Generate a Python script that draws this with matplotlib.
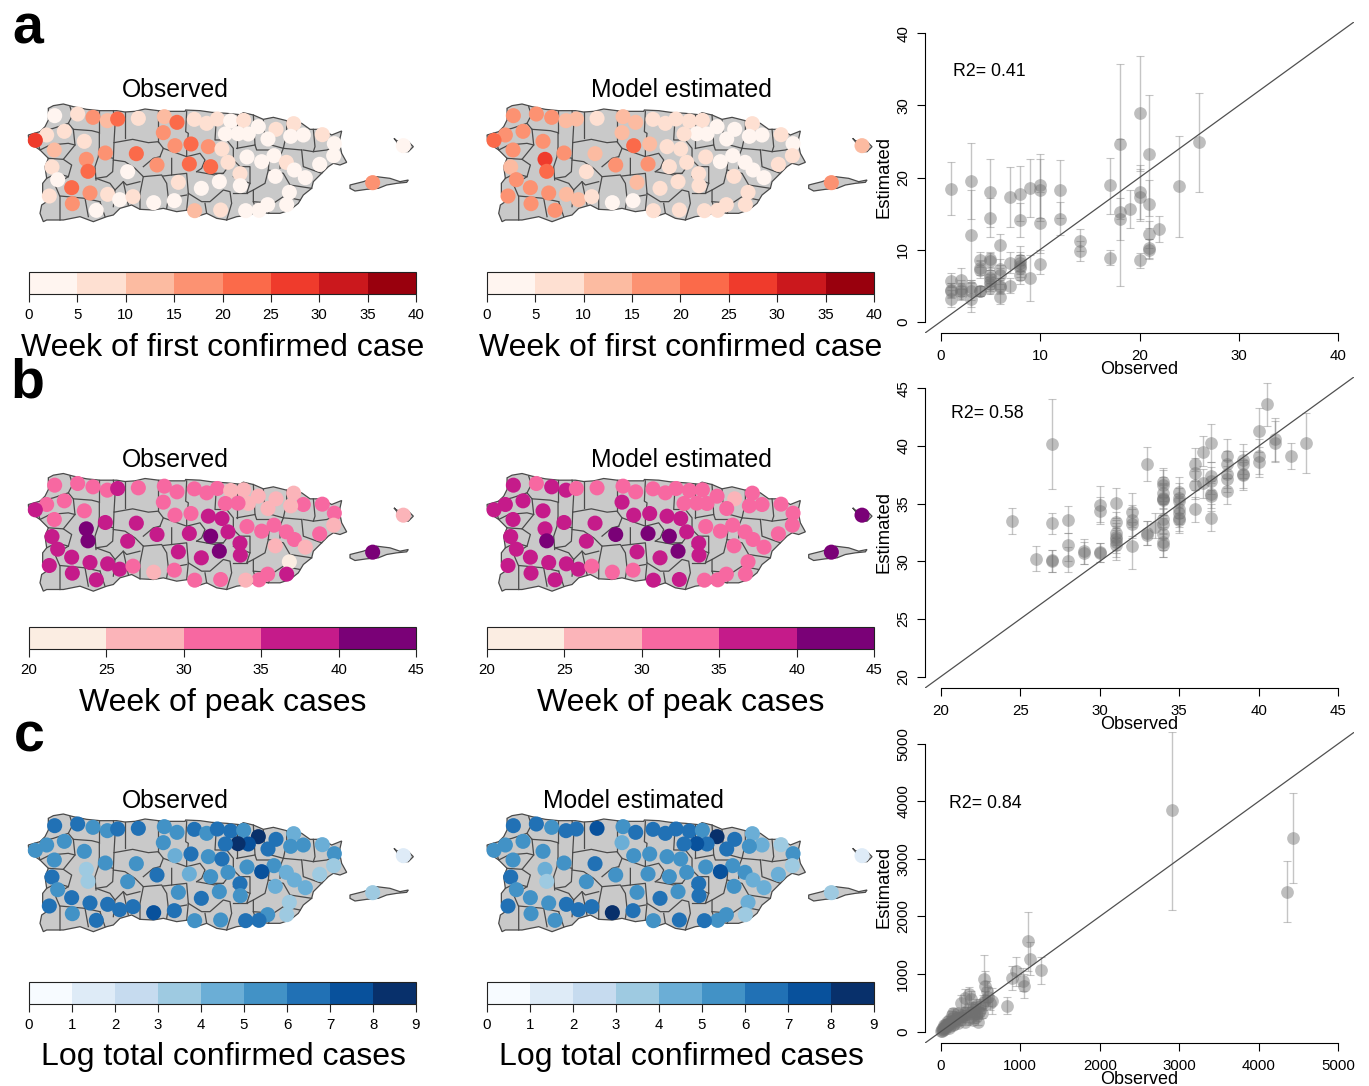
import matplotlib
matplotlib.use("Agg")
import matplotlib.pyplot as plt
from matplotlib.colors import ListedColormap, BoundaryNorm
from matplotlib.colorbar import ColorbarBase

W, H = 1369, 1086
plt.rcParams['font.family'] = ['Liberation Sans', 'DejaVu Sans']

# ---- map geometry (map units) ----
island_x = [85,100,130,160,200,240,290,315,345,375,415,450,495,497,540,575,620,660,670,700,730,760,800,845,870,905,935,965,960,960,965,980,960,940,925,905,880,875,850,835,810,780,745,710,690,650,620,590,560,530,505,470,430,400,360,335,300,280,260,220,180,130,80,70,60,65,80,68,68,80,75,85,60,27,25,60,75,85]
island_y = [115,107,102,110,118,122,122,126,124,117,122,124,124,120,122,127,130,134,128,135,148,142,152,160,178,178,195,183,205,225,250,277,285,280,290,310,335,355,375,400,420,430,430,425,435,440,450,445,430,440,420,425,415,420,418,405,415,435,440,455,440,450,450,455,430,405,395,370,340,325,290,265,240,218,195,185,170,150]
vieques_x = [990,1030,1070,1110,1140,1165,1160,1130,1100,1075,1040,1005,990]
vieques_y = [345,335,320,325,335,330,337,340,345,355,358,363,355]
culebra_x = [1122,1130,1145,1165,1180,1165,1145,1135,1130]
culebra_y = [205,212,215,215,230,245,245,230,215]
borders = [
 [(150,110),(158,135),(145,160),(160,178),(215,182),(238,188),(238,230),(235,260),(225,290),(228,330)],
 [(60,185),(100,175),(145,160)],
 [(238,122),(238,188)],
 [(280,122),(285,165),(282,218),(338,208),(385,218),(415,215),(430,235),(420,260)],
 [(315,126),(315,205)],
 [(415,122),(415,215)],
 [(282,218),(280,270),(278,305),(260,320),(228,325)],
 [(160,178),(165,225),(130,268),(85,265)],
 [(130,268),(155,285),(145,320),(105,345)],
 [(240,255),(280,265)],
 [(280,270),(315,275),(345,295),(370,320),(425,315),(440,340),(445,385),(440,415)],
 [(370,320),(360,370),(360,418)],
 [(420,260),(400,265),(370,290)],
 [(430,235),(500,260),(540,250),(555,270),(545,295),(530,305)],
 [(455,265),(455,315),(430,318)],
 [(500,124),(497,185),(505,190),(500,240),(500,260)],
 [(455,315),(500,310),(505,370),(500,420)],
 [(505,370),(545,395),(570,395),(610,360),(630,365),(635,400),(620,450)],
 [(555,400),(560,430)],
 [(590,128),(585,210),(620,210),(640,235),(640,270),(610,310),(560,310)],
 [(530,305),(585,315),(610,310)],
 [(700,135),(705,225),(650,235)],
 [(640,270),(660,290),(690,290),(690,340),(680,370),(700,360)],
 [(730,150),(735,220),(790,235),(845,240)],
 [(705,225),(710,240),(750,240),(745,300),(735,340),(700,360),(700,395),(710,425)],
 [(745,300),(790,310),(810,345),(875,355)],
 [(790,235),(780,260),(780,295)],
 [(845,240),(850,290),(905,310)],
 [(850,240),(880,245),(920,240),(960,225)],
 [(880,178),(885,230),(880,245)],
 [(800,152),(800,190),(790,235)],
 [(650,134),(650,235)],
 [(105,345),(120,380),(120,450)],
 [(120,378),(195,385),(240,395)],
 [(195,385),(205,440)],
 [(240,395),(255,440)],
 [(228,325),(270,340),(285,360),(280,410)],
 [(285,360),(310,335),(320,345),(360,335)],
 [(310,335),(325,405)],
 [(700,395),(760,400),(790,380),(840,390)],
 [(680,370),(640,370)],
 [(760,400),(745,430)],
 [(45,190),(60,240),(90,225),(145,220),(165,225)],
 [(80,325),(110,310),(145,320)],
 [(445,385),(500,375)],
 [(640,320),(690,340)],
]

# ---- municipality points (map units) ----
muni_x = [104,173,219,262,293,355,433,471,523,560,592,632,671,715,768,821,907,850,812,744,685,654,616,430,80,46,133,193,103,256,349,465,513,565,606,681,762,943,941,899,799,823,725,624,572,508,411,323,199,204,96,113,155,210,263,299,339,401,463,475,544,598,660,661,766,856,808,800,743,717,677,602,524,229,157,88,1150,1058]
muni_y = [137,132,142,152,147,145,140,157,148,160,147,153,151,170,178,161,194,195,199,207,192,191,192,188,195,211,184,214,240,249,251,227,222,230,237,261,257,221,257,283,277,300,275,277,290,282,285,305,268,304,291,329,353,369,373,389,380,398,392,337,355,335,311,347,319,323,367,404,404,421,422,420,422,421,401,378,227,338]

# ---- colour class of each municipality ----
first_obs = [0,1,3,2,4,1,2,4,1,1,1,0,1,0,1,1,1,0,0,0,0,0,0,3,1,5,1,1,2,3,4,3,4,3,1,0,0,0,0,0,1,0,0,1,4,4,3,0,3,4,1,0,4,3,1,0,1,0,0,1,0,0,1,0,0,0,0,0,0,0,0,1,2,0,3,1,0,3]
first_est = [3,3,3,2,2,1,2,2,1,1,1,1,1,0,0,1,1,0,0,0,0,0,1,2,3,4,3,3,3,3,2,4,2,1,1,1,0,0,1,1,0,0,0,1,1,3,3,1,5,4,2,3,3,3,2,2,1,0,0,2,1,1,1,1,1,0,1,1,1,1,1,1,1,3,3,3,2,3]
peak_obs = [2,2,2,2,3,2,2,2,2,2,2,1,1,1,1,1,2,2,1,1,1,2,2,2,2,3,2,2,2,3,3,2,2,3,3,2,2,2,1,2,2,2,2,3,4,3,3,3,4,4,3,3,3,3,3,3,2,1,2,3,3,4,3,3,1,1,0,3,2,2,1,2,2,3,3,3,1,4]
peak_est = [3,2,3,3,2,2,2,2,2,2,2,2,2,2,1,2,2,2,2,2,2,2,2,3,3,3,3,3,3,3,3,3,3,3,3,2,2,2,2,2,2,2,2,3,4,4,4,3,3,4,3,3,3,3,3,3,2,2,2,3,3,4,3,3,2,2,2,2,2,2,2,3,3,3,3,3,4,4]
total_obs = [6,6,5,5,6,6,5,5,6,5,6,6,5,8,6,4,4,5,5,6,7,8,6,5,5,5,5,5,5,5,5,4,6,5,6,5,5,5,3,3,4,4,7,5,5,4,6,5,3,3,6,5,6,6,6,6,6,7,6,5,6,5,6,5,4,4,3,3,5,6,6,5,5,6,5,6,1,3]
total_est = [6,6,5,6,6,7,5,6,6,6,6,6,5,8,6,4,3,4,5,6,6,7,6,4,5,5,5,5,5,5,6,5,5,5,5,5,5,5,3,4,5,4,7,5,5,5,5,5,4,3,6,5,5,5,6,6,6,8,6,5,6,5,6,6,5,4,4,3,5,5,6,6,5,5,5,6,1,3]

# ---- colour bars ----
reds = ['#FFF5F0','#FEE0D2','#FCBBA1','#FC9272','#FB6A4A','#EF3B2C','#CB181D','#99000D']
rdpu = ['#FBEDE2','#FBB4B9','#F768A1','#C51B8A','#7A0177']
blues = ['#F7FBFF','#DEEBF7','#C6DBEF','#9ECAE1','#6BAED6','#4292C6','#2171B5','#08519C','#08306B']
first_edges = [0,5,10,15,20,25,30,35,40]
peak_edges = [20,25,30,35,40,45]
total_edges = [0,1,2,3,4,5,6,7,8,9]

# ---- scatter a: week of first confirmed case ----
a_x  = [1,1,1,1,1,2,2,2,2,3,3,3,3,3,4,4,4,4,4,5,5,5,5,5,5,5,5,5,6,6,6,6,6,6,7,7,7,8,8,8,8,8,8,8,9,9,10,10,10,10,12,12,14,14,17,17,18,18,18,19,20,20,20,20,21,21,21,21,21,22,24,26]
a_y  = [18.4,5.7,4.4,4.3,3.2,5.8,4.6,4.3,4.0,19.5,12.0,4.8,3.2,4.2,8.6,7.5,7.2,4.3,4.2,18.0,14.4,8.7,8.4,6.5,6.0,5.6,5.2,4.7,10.6,7.3,6.5,5.0,4.8,3.4,17.3,8.2,5.0,17.7,14.1,8.5,8.1,7.7,7.5,6.5,18.5,6.0,18.9,18.2,13.7,8.0,18.3,14.2,11.2,9.8,18.9,8.9,24.6,15.2,14.2,15.6,28.9,18.0,17.3,8.5,23.2,16.3,12.1,10.2,10.0,12.9,18.8,24.9]
a_lo = [14.8,4.8,3.4,3.3,2.0,4.6,3.5,3.2,3.0,14.2,5.8,2.0,1.4,3.0,7.6,6.5,6.0,3.6,3.5,13.2,11.7,7.4,7.2,5.4,5.0,4.6,4.2,3.8,7.5,6.0,5.2,4.0,3.8,2.4,13.2,6.8,4.0,14.0,11.7,7.0,6.6,6.2,5.8,5.2,14.5,2.9,14.4,14.0,9.5,6.6,14.4,12.0,9.8,8.4,15.0,7.9,14.2,11.3,5.0,13.0,20.9,14.2,14.0,7.5,14.7,13.0,10.2,8.8,8.7,11.1,11.8,18.0]
a_hi = [22.1,6.8,5.4,5.3,4.4,7.5,5.8,5.4,5.0,24.8,18.3,5.8,5.5,5.3,9.7,8.6,8.4,5.0,5.0,22.6,17.2,9.5,9.6,7.6,7.2,6.6,6.2,5.6,12.2,8.7,7.8,6.0,5.8,4.6,21.4,9.6,6.0,21.6,16.5,10.5,9.6,9.2,9.2,7.8,22.6,9.2,23.2,22.5,18.0,10.0,22.4,16.6,12.8,11.2,22.7,10.0,35.7,17.1,25.4,18.2,36.8,21.8,21.2,9.5,31.5,19.6,14.0,11.5,11.5,14.7,25.8,31.7]

# ---- scatter b: week of peak cases ----
b_x  = [24.5,26,27,27,27,27,28,28,28,29,29,30,30,30,30,31,31,31,31,31,31,31,32,32,32,32,33,33,33,33.5,34,34,34,34,34,34,34,34,34,34,34,35,35,35,35,35,35,35,36,36,36,36,36.5,36.5,37,37,37,37,37,37,38,38,38,38,38,39,39,39,39,40,40,40,40.5,41,41,42,43]
b_y  = [33.5,30.2,40.2,33.3,30.1,30.0,33.6,31.4,30.0,30.9,30.7,34.9,34.4,30.8,30.7,35.1,33.4,32.5,32.1,31.9,31.7,31.4,34.3,33.6,33.2,31.3,38.4,32.5,32.3,33.0,36.9,36.6,35.9,35.5,35.4,35.3,33.7,33.2,32.4,31.7,31.4,36.0,35.5,35.2,34.5,34.2,33.8,33.6,38.4,37.7,36.6,34.5,39.5,36.8,40.3,37.4,37.0,35.8,35.7,33.8,39.1,38.4,37.6,37.1,36.1,38.8,38.4,37.6,37.5,41.3,39.1,38.6,43.6,40.6,40.3,39.1,40.3]
b_lo = [32.4,29.2,36.3,32.4,29.1,29.1,32.5,30.0,29.1,29.8,29.8,33.4,33.2,29.9,29.9,33.8,32.0,31.4,31.0,30.7,30.4,30.1,33.0,32.2,32.0,29.3,37.0,31.4,31.4,32.0,35.6,35.2,34.6,34.2,34.0,34.0,32.4,32.0,31.0,30.4,30.4,34.6,34.2,33.8,33.2,33.0,32.6,32.5,37.0,36.2,35.4,33.4,38.3,35.5,38.6,36.2,35.8,34.6,34.4,32.6,37.8,37.2,36.4,36.0,35.0,37.6,37.2,36.4,36.2,39.5,37.6,37.3,41.7,38.7,38.6,38.0,37.7]
b_hi = [34.6,31.3,44.1,34.2,31.0,31.0,34.8,32.5,31.2,31.9,31.7,36.5,35.6,31.6,31.6,36.4,34.3,33.6,33.3,33.1,32.9,32.7,35.9,34.9,34.5,33.4,39.9,33.5,33.5,34.2,38.1,37.9,37.3,36.8,36.7,36.6,35.0,34.5,33.8,33.0,32.5,37.3,36.8,36.4,35.8,35.5,35.0,34.7,39.8,39.0,37.8,35.6,40.9,38.0,41.9,38.6,38.2,37.0,36.8,35.0,40.6,39.6,38.8,38.3,37.2,40.2,39.6,38.8,38.6,43.3,40.6,39.9,45.5,42.4,42.2,40.3,42.9]

# ---- scatter c: total confirmed cases ----
c_x  = [2910,4430,4350,1100,1120,1260,830,950,900,1030,1050,550,560,580,600,650,620,350,300,250,380,450,500,520,470,450,420,300,280,300,250,230,220,150,140,160,180,130,110,100,90,80,60,50,40,30,20,10,15,25,60,70,100,120,150,170,200,220,260,320,340,380,400,430,480,500,530,560,40,190,110,75,350,400,450]
c_y  = [3850,3370,2430,1580,1260,1070,450,1050,930,880,790,920,800,700,600,530,500,650,580,500,560,450,380,320,170,250,300,330,270,160,220,280,320,330,290,260,200,180,210,150,110,130,120,90,60,70,40,20,15,30,50,80,70,90,120,140,180,150,260,300,380,340,410,380,340,450,500,550,120,230,130,170,220,200,310]
c_lo = [2120,2590,1900,1060,980,830,300,800,730,700,580,520,600,520,440,300,370,500,430,370,420,330,280,230,120,180,220,250,200,110,160,210,240,250,220,190,150,130,150,110,80,95,90,60,40,50,25,10,8,20,35,55,50,65,90,100,130,110,190,220,280,250,300,280,250,330,370,400,85,170,95,120,160,150,230]
c_hi = [5200,4140,2960,2080,1550,1300,600,1290,1140,1100,1000,1340,1050,880,770,750,640,780,740,640,700,570,490,410,220,320,380,420,340,210,290,350,400,410,360,330,250,230,270,190,140,170,150,120,80,90,55,30,22,40,65,105,90,115,150,180,230,190,330,380,480,430,520,480,430,570,630,700,155,290,165,220,280,250,390]

def px_axes(x0, y0, x1, y1):
    return fig.add_axes([x0/W, 1-y1/H, (x1-x0)/W, (y1-y0)/H])

def txt(x, y, s, **kw):
    kw.setdefault('ha', 'center'); kw.setdefault('va', 'center')
    fig.text(x/W, 1-y/H, s, **kw)

def draw_map(ox, oy, classes, colors):
    ax = px_axes(ox, oy, ox+420, oy+170)
    ax.set_xlim(0, 1260); ax.set_ylim(510, 0); ax.axis('off')
    for xs, ys in ((island_x, island_y), (vieques_x, vieques_y), (culebra_x, culebra_y)):
        ax.fill(xs, ys, fc='#C9C9C9', ec='#4A4A4A', lw=0.9, zorder=1)
    for seg in borders:
        ax.plot([p[0] for p in seg], [p[1] for p in seg], color='#4A4A4A', lw=0.9, zorder=2)
    ax.scatter(muni_x, muni_y, c=classes, cmap=ListedColormap(colors),
               vmin=-0.5, vmax=len(colors)-0.5, s=118, lw=0, zorder=3, clip_on=False)

def draw_cbar(x0, y0, colors, edges, label):
    ax = px_axes(x0, y0, x0+387, y0+22)
    cb = ColorbarBase(ax, cmap=ListedColormap(colors), norm=BoundaryNorm(edges, len(colors)),
                      orientation='horizontal', ticks=edges, spacing='proportional', drawedges=False)
    cb.outline.set_linewidth(0.8); cb.outline.set_edgecolor('#222222')
    cb.minorticks_off()
    ax.tick_params(axis='x', length=5.5, width=0.8, labelsize=10.8, pad=4.5, color='#222222')
    ax.set_xticklabels([str(e) for e in edges])
    txt(x0+194, y0+75.5, label, fontsize=23)

def draw_scatter(x0, y0, x1, y1, xlim, ticks, xs, ys, lo, hi, r2, r2pos, label_y):
    ax = px_axes(x0, y0, x1, y1)
    ax.set_xlim(*xlim); ax.set_ylim(*xlim)
    for s in ('top', 'right'):
        ax.spines[s].set_visible(False)
    ax.spines['left'].set_bounds(ticks[0], ticks[-1])
    ax.spines['bottom'].set_bounds(ticks[0], ticks[-1])
    for s in ('left', 'bottom'):
        ax.spines[s].set_linewidth(0.8)
    ax.set_xticks(ticks); ax.set_yticks(ticks)
    ax.tick_params(axis='x', length=6, width=0.8, labelsize=10.8, pad=5.5)
    ax.tick_params(axis='y', length=6, width=0.8, labelsize=10.8, pad=4.5)
    for t in ax.get_yticklabels():
        t.set_rotation(90); t.set_va('center')
    ax.errorbar(xs, ys, yerr=[[y-l for y, l in zip(ys, lo)], [h-y for y, h in zip(ys, hi)]],
                fmt='none', ecolor='#808080', alpha=0.45, elinewidth=1.0, capsize=3.2, capthick=0.8, zorder=2)
    ax.scatter(xs, ys, s=84, color='#707070', alpha=0.45, lw=0, zorder=3)
    ax.axline((ticks[0], ticks[0]), slope=1, color='#505050', lw=0.9, zorder=4)
    txt(r2pos[0], r2pos[1]+1, r2, ha='left', fontsize=12.8)
    txt(1139, y1+36, 'Observed', fontsize=13)
    txt(884, label_y-1, 'Estimated', fontsize=13.3, rotation=90)

fig = plt.figure(figsize=(W/100, H/100), dpi=100)

rows = [
 dict(oy=70,  cby=272, obs=first_obs, est=first_est, colors=reds,  edges=first_edges, label='Week of first confirmed case', ty=90,  est_tx=681),
 dict(oy=439.5, cby=627, obs=peak_obs, est=peak_est, colors=rdpu,  edges=peak_edges,  label='Week of peak cases', ty=460, est_tx=681),
 dict(oy=780, cby=982, obs=total_obs, est=total_est, colors=blues, edges=total_edges, label='Log total confirmed cases', ty=801, est_tx=633),
]
for r in rows:
    draw_map(20, r['oy'], r['obs'], r['colors'])
    draw_map(478.7, r['oy'], r['est'], r['colors'])
    draw_cbar(29, r['cby'], r['colors'], r['edges'], r['label'])
    draw_cbar(487, r['cby'], r['colors'], r['edges'], r['label'])
    txt(175, r['ty'], 'Observed', fontsize=17.8)
    txt(r['est_tx'], r['ty'], 'Model estimated', fontsize=17.8)

draw_scatter(924.8, 21.8, 1354.2, 333.2, (-1.6, 41.6), [0,10,20,30,40], a_x, a_y, a_lo, a_hi, 'R2= 0.41', (953, 70), 178)
draw_scatter(924.8, 376.8, 1354.2, 688.2, (19, 46), [20,25,30,35,40,45], b_x, b_y, b_lo, b_hi, 'R2= 0.58', (951, 412), 533)
draw_scatter(924.8, 732.2, 1354.2, 1043.2, (-200, 5200), [0,1000,2000,3000,4000,5000], c_x, c_y, c_lo, c_hi, 'R2= 0.84', (949, 802), 888)

txt(28, 29, 'a', fontsize=40, fontweight='bold')
txt(27, 384, 'b', fontsize=40, fontweight='bold')
txt(29, 738, 'c', fontsize=40, fontweight='bold')

fig.savefig('out.png', dpi=100)
